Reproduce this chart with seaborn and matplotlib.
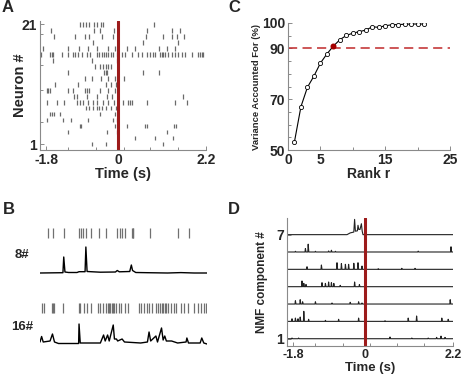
import numpy as np
import pandas as pd
import matplotlib
matplotlib.use("Agg")
import matplotlib.pyplot as plt
import seaborn as sns

sns.set_style("ticks")
plt.rcParams['font.family'] = ['Liberation Sans', 'DejaVu Sans']
plt.rcParams['font.weight'] = 'bold'

RED = "#9c1b1b"
GRAY = "#8a8a8a"
T_MIN, T_MAX = -1.95, 2.2

# --- Panel A: spike times (s), neuron 1 .. 21 ---
raster_spikes = [
    [-0.66, -0.30, 1.13],
    [0.43, 0.93, 1.38],
    [-1.24, -0.28, -0.03, 1.22],
    [-0.95, -0.92, -0.07, 0.23, 0.68, 0.72, 1.40, 1.45],
    [-1.78, -1.37, -1.18, -0.74, -0.12, -0.03],
    [-1.70, -1.66, -1.60, -1.45, -0.45, -0.07],
    [-0.80, -0.72, -0.63, -0.53, -0.47, -0.41, -0.30, -0.18, -0.05],
    [-1.77, -1.53, -1.35, -1.02, -0.95, -0.88, -0.74, -0.63, -0.53, -0.37,
     -0.24, -0.09, 0.13, 0.26, 0.30, 0.34, 0.72, 1.43, 1.72],
    [-1.10, -1.02, -0.77, -0.53, -0.27, -0.16, 1.62],
    [-1.78, -1.74, -1.70, -1.24, -1.13, -0.83, -0.77, -0.72, -0.45, -0.24, -0.07],
    [-1.58, -0.99, -0.30, -0.17, -0.05],
    [-0.83, -0.66, -0.43, -0.24, -0.07, 0.15],
    [-1.24, -0.35, -0.30, -0.27, 0.63, 1.03],
    [-0.57, -0.45, -0.37, -0.30, -0.24, -0.17],
    [-1.62, -0.66, -0.03],
    [-1.93, -1.70, -1.66, -1.62, -1.41, -1.24, -1.12, -1.08, -0.99, -0.91,
     -0.77, -0.70, -0.53, -0.48, -0.41, -0.35, -0.30, -0.24, -0.18, -0.12,
     -0.03, 0.09, 0.18, 0.34, 0.51, 0.59, 0.72, 0.80, 0.87, 0.93, 1.05, 1.09,
     1.13, 1.18, 1.26, 1.34, 1.43, 1.51, 1.59, 1.68, 1.84, 2.01, 2.05, 2.09, 2.13],
    [-1.87, -1.24, -0.97, -0.74, -0.53, -0.26, -0.08, 0.22, 0.43, 1.03, 1.22, 1.43],
    [-0.62, 0.62, 1.49],
    [-1.60, -1.08, -0.83, -0.72, -0.41, -0.12, 0.70, 1.12, 1.34, 1.47, 1.65],
    [-1.68, -0.59, -0.45, -0.10, 0.72, 1.34, 1.55],
    [-0.95, -0.87, -0.80, -0.72, -0.60, -0.53, -0.43, -0.37, 0.90],
]

# --- Panel B: example neurons ---
b8_spikes = [-1.76, -1.63, -1.35, -0.99, -0.93, -0.87, -0.80, -0.68, -0.49, -0.30,
             -0.03, 0.03, 0.09, 0.16, 0.33, 0.35, 0.37, 0.78, 1.47, 1.76]
b8_t = [-1.95, -1.38, -1.36, -1.33, -1.24, -1.03, -0.98, -0.83, -0.81, -0.78, -0.45,
        -0.075, -0.03, 0.02, 0.28, 0.32, 0.35, 0.43, 0.72, 1.22, 1.55, 1.88, 2.2]
b8_y = [0, 0.3, 16, 1, 0.5, 0.5, 1.3, 1.3, 26, 1.5, 0.8,
        1, 2.5, 1.2, 1.5, 8, 2.5, 0.5, 0.3, 0, 0.4, 0, 0]

b16_spikes = [-1.91, -1.85, -1.66, -1.63, -1.60, -1.37, -0.99, -0.95, -0.85, -0.77,
              -0.68, -0.52, -0.45, -0.38, -0.30, -0.27, -0.23, -0.20, -0.17, -0.13,
              -0.10, -0.05, 0.01, 0.07, 0.15, 0.23, 0.51, 0.57, 0.63, 0.72, 0.76,
              0.83, 0.93, 0.97, 1.03, 1.07, 1.11, 1.15, 1.19, 1.23, 1.30, 1.37,
              1.43, 1.55, 1.62, 1.72, 1.87, 1.97, 2.05, 2.12, 2.18]
b16_t = [-1.95, -1.91, -1.87, -1.70, -1.64, -1.59, -1.49, -0.99, -0.98, -0.95, -0.45,
         -0.37, -0.33, -0.27, -0.23, -0.13, -0.10, -0.05, -0.02, 0.09, 0.15, 0.55,
         0.72, 0.76, 0.80, 0.93, 0.97, 1.07, 1.11, 1.15, 1.19, 1.32, 1.47, 1.68,
         1.70, 1.74, 2.03, 2.07, 2.12, 2.2]
b16_y = [2, 7.5, 2, 3, 10, 2, 0.5, 0.5, 20, 1, 1,
         9, 3, 9, 3, 19, 5, 5, 3, 5, 2, 1,
         2, 12, 3, 8, 2, 16, 4, 8, 3, 3, 1, 2,
         6, 1, 1, 6, 1, 0]

# --- Panel C: variance accounted for ---
rank = list(range(1, 22))
vaf = [53.3, 67.1, 74.7, 79.1, 84.2, 87.8, 90.9, 93.4, 95.1, 96.0, 96.6,
       97.2, 98.5, 98.3, 98.9, 99.3, 99.4, 99.5, 99.6, 99.6, 99.6]
chosen_rank = 7
vaf_threshold = 90

# --- Panel D: NMF components, (time, height) events per component ---
nmf_events = {
    1: [(-1.825, 0.04), (-1.66, 0.04), (0.625, 0.10), (1.17, 0.04), (1.58, 0.04),
        (1.79, 0.08), (1.90, 0.15), (2.00, 0.08)],
    2: [(-1.825, 0.15), (-1.74, 0.19), (-1.675, 0.15), (-1.62, 0.25), (-1.53, 0.58),
        (-1.41, 0.12), (-0.99, 0.06), (-0.66, 0.12), (-0.16, 0.19), (0.50, 0.04),
        (1.08, 0.19), (1.29, 0.31), (1.92, 0.19), (2.08, 0.12)],
    3: [(-1.74, 0.19), (-1.62, 0.25), (-1.56, 0.13), (-1.24, 0.13), (-0.825, 0.06),
        (-0.37, 0.10), (-0.16, 0.13), (-0.075, 0.06), (2.13, 0.25)],
    4: [(-1.575, 0.33), (-1.53, 0.19), (-1.475, 0.13), (-1.075, 0.23), (-0.99, 0.19),
        (-0.91, 0.27), (-0.84, 0.23), (-0.78, 0.19), (-0.62, 0.08), (-0.26, 0.27),
        (-0.14, 0.12)],
    5: [(-1.45, 0.15), (-1.09, 0.25), (-0.70, 0.38), (-0.59, 0.33), (-0.49, 0.29),
        (-0.41, 0.29), (-0.28, 0.35), (-0.175, 0.38), (-0.075, 0.19), (0.33, 0.04),
        (0.92, 0.06), (1.25, 0.06)],
    6: [(-1.74, 0.04), (-1.49, 0.20), (-1.42, 0.45), (-1.24, 0.04), (-0.91, 0.06),
        (-0.84, 0.10), (-0.74, 0.04), (1.33, 0.05), (2.15, 0.30)],
}
nmf7_t = [-1.95, -0.45, -0.37, -0.28, -0.26, -0.24, -0.19, -0.175, -0.155, -0.125,
          -0.09, -0.07, -0.05, 2.2]
nmf7_y = [0, 0, 0.10, 0.15, 0.88, 0.20, 0.22, 0.54, 0.30, 0.30, 0.63, 0.20, 0, 0]


def spike_line(events, w=0.01):
    t, y = [T_MIN], [0.0]
    for et, eh in sorted(events):
        t += [et - w, et, et + 1.5 * w]
        y += [0.0, eh, 0.0]
    t.append(T_MAX)
    y.append(0.0)
    return np.array(t), np.array(y)


def style_axis(ax):
    for s in ['top', 'right']:
        ax.spines[s].set_visible(False)
    for s in ['left', 'bottom']:
        ax.spines[s].set_color(GRAY)
        ax.spines[s].set_linewidth(0.8)
    ax.tick_params(which='both', direction='in', color=GRAY, width=0.7, pad=2)
    ax.tick_params(which='major', length=3)
    ax.tick_params(which='minor', length=2)


W, H = 463, 384
fig = plt.figure(figsize=(W / 100, H / 100), dpi=100)


def px_axes(left, top, right, bottom):
    return fig.add_axes([left / W, 1 - bottom / H, (right - left) / W, (bottom - top) / H])


# Panel A
axA = px_axes(40, 21, 206, 150)
axA.eventplot(raster_spikes, lineoffsets=list(range(1, 22)), linelengths=0.8,
              colors="#6a6a6a", linewidths=0.9)
axA.axvline(0, color=RED, lw=2.2)
axA.set_xlim(T_MIN, T_MAX)
axA.set_ylim(0, 21.55)
style_axis(axA)
axA.set_xticks([-1.8, 0, 2.2])
axA.set_xticklabels(['-1.8', '0', '2.2'], fontsize=10, fontweight='bold')
axA.set_xticks([-1.25, -0.55, 0.15, 0.8, 1.5], minor=True)
axA.set_yticks([1, 21])
axA.set_yticklabels(['1', '21'], fontsize=10, fontweight='bold')
axA.set_yticks([4.7, 10, 14.2, 19.4], minor=True)
axA.set_xlabel('Time (s)', fontsize=10.5, fontweight='bold', labelpad=0)
axA.set_ylabel('Neuron #', fontsize=10.5, fontweight='bold', labelpad=-4)

# Panel B
axB = px_axes(40, 220, 207, 350)
axB.set_xlim(T_MIN, T_MAX)
axB.set_ylim(0, 130)
axB.eventplot([b8_spikes, b16_spikes], lineoffsets=[117, 42], linelengths=10,
              colors="#707070", linewidths=0.9)
sns.lineplot(x=b8_t, y=np.array(b8_y) + 77, ax=axB, color='black', lw=1.0,
             sort=False, estimator=None)
sns.lineplot(x=b16_t, y=np.array(b16_y) + 6, ax=axB, color='black', lw=1.0,
             sort=False, estimator=None)
axB.axis('off')
fig.text(22 / W, 1 - 255 / H, '8#', fontsize=9.5, fontweight='bold', ha='center', va='center')
fig.text(22 / W, 1 - 327 / H, '16#', fontsize=9.5, fontweight='bold', ha='center', va='center')

# Panel C
axC = px_axes(288, 23, 450, 150)
dfC = pd.DataFrame({'rank': rank, 'vaf': vaf})
axC.axhline(vaf_threshold, color="#c0282a", lw=1.1, dashes=(6, 3.5), zorder=1)
sns.lineplot(data=dfC, x='rank', y='vaf', ax=axC, color='black', lw=0.8,
             marker='o', markersize=3.0, markerfacecolor='white',
             markeredgecolor='black', markeredgewidth=0.6, zorder=3)
sel = dfC[dfC['rank'] == chosen_rank]
axC.plot(sel['rank'], sel['vaf'], 'o', ms=3.3, mfc="#a50000", mec="#a50000", zorder=4)
axC.set_xlim(0, 25)
axC.set_ylim(50, 100)
style_axis(axC)
axC.set_xticks([0, 5, 15, 25])
axC.set_xticklabels(['0', '5', '15', '25'], fontsize=10, fontweight='bold')
axC.set_xticks([10, 20], minor=True)
axC.set_yticks([50, 70, 90, 100])
axC.set_yticklabels(['50', '70', '90', '100'], fontsize=10, fontweight='bold')
axC.set_yticks([55, 60, 65, 75, 80, 85, 95], minor=True)
axC.set_xlabel('Rank r', fontsize=10, fontweight='bold', labelpad=0)
axC.set_ylabel('Variance Accounted For (%)', fontsize=6.8, fontweight='bold', labelpad=1)

# Panel D
axD = px_axes(287, 218, 453, 346)
for comp, ev in nmf_events.items():
    t, y = spike_line(ev)
    sns.lineplot(x=t, y=y + comp, ax=axD, color='#222222', lw=0.8,
                 sort=False, estimator=None)
sns.lineplot(x=nmf7_t, y=np.array(nmf7_y) + 7, ax=axD, color='#222222', lw=0.8,
             sort=False, estimator=None)
axD.axvline(0, color=RED, lw=2.2)
axD.set_xlim(T_MIN, T_MAX)
axD.set_ylim(0.58, 7.96)
style_axis(axD)
axD.set_xticks([-1.8, 0, 2.2])
axD.set_xticklabels(['-1.8', '0', '2.2'], fontsize=9, fontweight='bold')
axD.set_xticks([-1.25, -0.55, 0.12, 0.8, 1.47], minor=True)
axD.set_yticks([1, 7])
axD.set_yticklabels(['1', '7'], fontsize=10, fontweight='bold')
axD.set_xlabel('Time (s)', fontsize=9.5, fontweight='bold', labelpad=1)
axD.set_ylabel('NMF component #', fontsize=8.5, fontweight='bold', labelpad=6)

# panel letters
for letter, x, y in [('A', 2, 8), ('B', 3, 210), ('C', 228, 8), ('D', 228, 210)]:
    fig.text(x / W, 1 - y / H, letter, fontsize=12, fontweight='bold', ha='left', va='center')

fig.savefig('out.png', dpi=100)
